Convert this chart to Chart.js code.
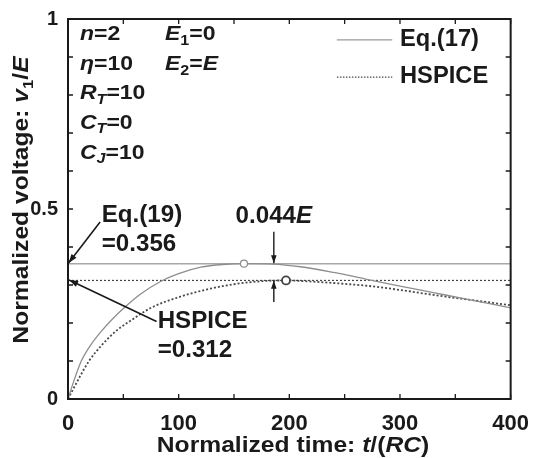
<!DOCTYPE html>
<html>
<head>
<meta charset="utf-8">
<script src="https://cdn.jsdelivr.net/npm/chart.js@4.4.0/dist/chart.umd.min.js"></script>
<style>
  body { margin: 0; background: #fff; }
  #wrap { width: 533px; height: 458px; }
</style>
</head>
<body>
<div id="wrap"><canvas id="chart" width="533" height="458"></canvas></div>
<script>
// values
const timeEq17 = [0, 5, 12, 20, 30, 40, 50, 65, 84, 100, 120, 140, 160, 185, 210, 240, 270, 300, 330, 360, 400];
const voltEq17 = [0, 0.045, 0.10, 0.14, 0.178, 0.21, 0.238, 0.275, 0.31, 0.33, 0.347, 0.354, 0.356, 0.355, 0.348, 0.333, 0.315, 0.297, 0.28, 0.263, 0.24];
const timeHspice = [0, 10, 19, 30, 43, 56, 75, 100, 125, 150, 175, 197, 220, 250, 270, 300, 330, 360, 400];
const voltHspice = [0, 0.055, 0.10, 0.14, 0.178, 0.205, 0.24, 0.268, 0.288, 0.302, 0.31, 0.312, 0.309, 0.303, 0.298, 0.287, 0.274, 0.262, 0.247];
const refEq19 = 0.356;
const refHspice = 0.312;
const peakEq17 = [159, 0.356];
const peakHspice = [197, 0.312];

const xTicks = [0, 100, 200, 300, 400];
const yTicks = [0, 0.5, 1];
const xMinor = [0, 50, 100, 150, 200, 250, 300, 350, 400];
const yMinor = [0, 0.1, 0.2, 0.3, 0.4, 0.5, 0.6, 0.7, 0.8, 0.9, 1];

const FONT = '"Liberation Sans", Arial, Helvetica, sans-serif';
Chart.defaults.font.family = FONT;

const pts = (xs, ys) => xs.map((x, i) => ({ x: x, y: ys[i] }));

// text with italic / subscript pieces
function drawRich(ctx, parts, x, y, size, align, sx) {
    const fontOf = f => (f.includes('i') ? 'italic ' : '') + 'bold ' +
        (f.includes('s') ? Math.round(size * 0.68) : size) + 'px ' + FONT;
    ctx.save();
    ctx.textBaseline = 'middle';
    ctx.textAlign = 'left';
    let w = 0;
    parts.forEach(([t, f = '']) => { ctx.font = fontOf(f); w += ctx.measureText(t).width; });
    ctx.translate(x, y);
    ctx.scale(sx || 1, 1);
    let cx = align === 'center' ? -w / 2 : align === 'right' ? -w : 0;
    parts.forEach(([t, f = '']) => {
        ctx.font = fontOf(f);
        ctx.fillText(t, cx, f.includes('s') ? size * 0.32 : 0);
        cx += ctx.measureText(t).width;
    });
    ctx.restore();
}

function arrow(ctx, x1, y1, x2, y2, head) {
    ctx.beginPath();
    ctx.moveTo(x1, y1);
    ctx.lineTo(x2, y2);
    ctx.stroke();
    const a = Math.atan2(y2 - y1, x2 - x1);
    const c = Math.cos(a), s = Math.sin(a), hw = head * 0.35;
    ctx.beginPath();
    ctx.moveTo(x2, y2);
    ctx.lineTo(x2 - head * c + hw * s, y2 - head * s - hw * c);
    ctx.lineTo(x2 - head * c - hw * s, y2 - head * s + hw * c);
    ctx.closePath();
    ctx.fill();
}

const extras = {
    id: 'extras',
    afterDraw(chart) {
        const ctx = chart.ctx;
        const xs = chart.scales.x, ys = chart.scales.y;
        const a = chart.chartArea;
        const px = v => xs.getPixelForValue(v);
        const py = v => ys.getPixelForValue(v);

        ctx.save();
        ctx.fillStyle = '#1a1a1a';
        ctx.strokeStyle = '#1a1a1a';

        // frame + inward ticks
        ctx.lineWidth = 2;
        ctx.strokeRect(a.left, a.top, a.right - a.left, a.bottom - a.top);
        ctx.lineWidth = 1.3;
        ctx.beginPath();
        xMinor.forEach(v => {
            ctx.moveTo(px(v), a.bottom); ctx.lineTo(px(v), a.bottom - 5);
            ctx.moveTo(px(v), a.top); ctx.lineTo(px(v), a.top + 5);
        });
        yMinor.forEach(v => {
            ctx.moveTo(a.left, py(v)); ctx.lineTo(a.left + 5, py(v));
            ctx.moveTo(a.right, py(v)); ctx.lineTo(a.right - 5, py(v));
        });
        ctx.stroke();

        // axis titles
        drawRich(ctx, [['Normalized time: '], ['t', 'i'], ['/('], ['RC', 'i'], [')']],
            293, 446, 22, 'center', 1.12);
        ctx.save();
        ctx.translate(22, 200);
        ctx.rotate(-Math.PI / 2);
        drawRich(ctx, [['Normalized voltage: '], ['v', 'i'], ['1', 's'], ['/'], ['E', 'i']],
            0, 0, 22, 'center', 1.12);
        ctx.restore();

        // parameter block
        const rows = [0.958, 0.879, 0.803, 0.726, 0.647];
        const left = [
            [['n', 'i'], ['=2']],
            [['\u03b7', 'i'], ['=10']],
            [['R', 'i'], ['T', 'is'], ['=10']],
            [['C', 'i'], ['T', 'is'], ['=0']],
            [['C', 'i'], ['J', 'is'], ['=10']]
        ];
        left.forEach((p, i) => drawRich(ctx, p, px(10.8), py(rows[i]), 20, 'left', 1.15));
        drawRich(ctx, [['E', 'i'], ['1', 's'], ['=0']], px(87.6), py(rows[0]), 20, 'left', 1.15);
        drawRich(ctx, [['E', 'i'], ['2', 's'], ['='], ['E', 'i']], px(87.6), py(rows[1]), 20, 'left', 1.15);

        // legend
        ctx.lineWidth = 1.3;
        ctx.strokeStyle = '#9a9a9a';
        ctx.beginPath(); ctx.moveTo(px(243), py(0.945)); ctx.lineTo(px(293), py(0.945)); ctx.stroke();
        ctx.strokeStyle = '#4a4a4a';
        ctx.setLineDash([1.5, 1.5]);
        ctx.beginPath(); ctx.moveTo(px(243), py(0.847)); ctx.lineTo(px(293), py(0.847)); ctx.stroke();
        ctx.setLineDash([]);
        drawRich(ctx, [['Eq.(17)']], px(300), py(0.945), 23, 'left', 1.03);
        drawRich(ctx, [['HSPICE']], px(300), py(0.847), 23, 'left', 1.03);

        // annotations
        ctx.strokeStyle = '#1a1a1a';
        ctx.lineWidth = 1.6;
        arrow(ctx, px(29), py(0.466), px(0.5), py(0.358), 9);
        arrow(ctx, px(80), py(0.204), px(1), py(0.313), 9);
        ctx.lineWidth = 1.4;
        arrow(ctx, px(186), py(0.44), px(186), py(0.357), 8);
        arrow(ctx, px(186), py(0.255), px(186), py(0.311), 8);
        drawRich(ctx, [['Eq.(19)']], px(30.5), py(0.482), 23, 'left', 1.05);
        drawRich(ctx, [['=0.356']], px(30.5), py(0.405), 23, 'left', 1.05);
        drawRich(ctx, [['0.044'], ['E', 'i']], px(186), py(0.479), 23, 'center', 1.05);
        drawRich(ctx, [['HSPICE']], px(81), py(0.203), 23, 'left', 1.05);
        drawRich(ctx, [['=0.312']], px(81), py(0.126), 23, 'left', 1.05);
        ctx.restore();
    }
};

new Chart(document.getElementById('chart'), {
    type: 'line',
    data: {
        datasets: [
            {
                type: 'scatter',
                data: [{ x: peakEq17[0], y: peakEq17[1] }],
                pointRadius: 3.5,
                borderColor: '#8e8e8e',
                backgroundColor: '#fff',
                borderWidth: 1.2
            },
            {
                type: 'scatter',
                data: [{ x: peakHspice[0], y: peakHspice[1] }],
                pointRadius: 4,
                borderColor: '#444',
                backgroundColor: '#fff',
                borderWidth: 1.8
            },
            {
                label: 'Eq.(17)',
                data: pts(timeEq17, voltEq17),
                borderColor: '#8e8e8e',
                borderWidth: 1.3,
                pointRadius: 0,
                cubicInterpolationMode: 'monotone'
            },
            {
                label: 'HSPICE',
                data: pts(timeHspice, voltHspice),
                borderColor: '#4a4a4a',
                borderWidth: 1.8,
                borderDash: [2, 2],
                pointRadius: 0,
                cubicInterpolationMode: 'monotone'
            },
            {
                label: 'Eq.(19)',
                data: [{ x: 0, y: refEq19 }, { x: 400, y: refEq19 }],
                borderColor: '#a8a8a8',
                borderWidth: 1.5,
                pointRadius: 0
            },
            {
                label: 'HSPICE max',
                data: [{ x: 0, y: refHspice }, { x: 400, y: refHspice }],
                borderColor: '#444',
                borderWidth: 1.2,
                borderDash: [2, 2],
                pointRadius: 0
            }
        ]
    },
    options: {
        responsive: false,
        animation: false,
        layout: { padding: { top: 19, right: 22, left: 0, bottom: 0 } },
        plugins: { legend: { display: false }, tooltip: { enabled: false } },
        scales: {
            x: {
                type: 'linear',
                min: 0,
                max: 400,
                afterBuildTicks: s => { s.ticks = xTicks.map(v => ({ value: v })); },
                afterFit: s => { s.height = 59; },
                grid: { display: false },
                border: { display: false },
                ticks: { font: { size: 22, weight: 'bold' }, color: '#1a1a1a', padding: 4, maxRotation: 0, autoSkip: false }
            },
            y: {
                min: 0,
                max: 1,
                afterBuildTicks: s => { s.ticks = yTicks.map(v => ({ value: v })); },
                afterFit: s => { s.width = 68; },
                grid: { display: false },
                border: { display: false },
                ticks: {
                    font: { size: 20, weight: 'bold' },
                    color: '#1a1a1a',
                    padding: 2,
                    callback: v => String(v)
                }
            }
        }
    },
    plugins: [extras]
});
</script>
</body>
</html>
